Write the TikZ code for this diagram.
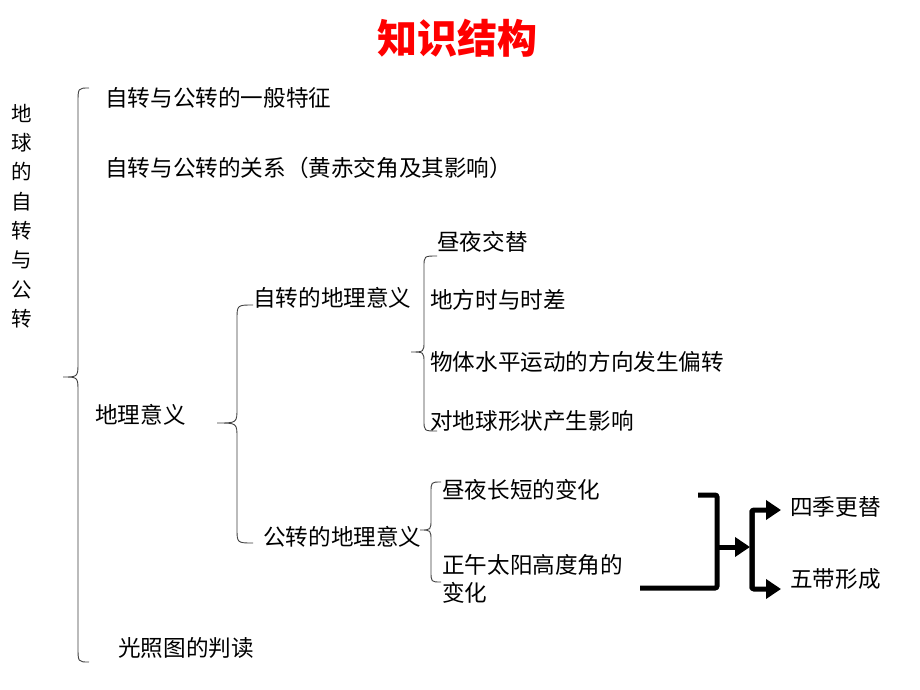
\documentclass[tikz,border=0pt]{standalone}
\usepackage{fontspec}
\newfontfamily\cjk{Noto Sans CJK SC}
\usetikzlibrary{arrows.meta}
\newcommand\mybrace[7]{% xe xv xt yt ym yb r
  \draw[bracel] (#1,#4) .. controls (#2,#4) .. (#2,#4+#7) -- (#2,#5-#7) .. controls (#2,#5) .. (#3,#5)
    .. controls (#2,#5) .. (#2,#5+#7) -- (#2,#6-#7) .. controls (#2,#6) .. (#1,#6);}
\tikzset{
  txt/.style={anchor=west, inner sep=0pt, font=\cjk\fontsize{22.6}{28}\selectfont},
  bracel/.style={draw=black!75, line width=0.9pt},
  thick arrow/.style={line width=5pt, rounded corners=2pt, -{Triangle[length=15pt,width=19pt]}},
  thick line/.style={line width=5pt, rounded corners=2pt},
}
\begin{document}
\begin{tikzpicture}[x=1pt,y=-1pt]
\useasboundingbox[fill=white] (0,0) rectangle (920,690);
\node[font=\cjk\bfseries\fontsize{40}{44}\selectfont, text=red, inner sep=0pt] (title) at (457,38) {知识结构};
\node[font=\cjk\fontsize{20.5}{29.3}\selectfont, align=center, inner sep=0pt] (root) at (22,216) {地\\球\\的\\自\\转\\与\\公\\转};
\mybrace{89}{78}{63}{88}{377}{662}{15}
\node[txt] (a1) at (105,98) {自转与公转的一般特征};
\node[txt] (a2) at (105,168) {自转与公转的关系（黄赤交角及其影响）};
\node[txt] (a3) at (95,415) {地理意义};
\node[txt] (a4) at (118,648) {光照图的判读};
\mybrace{253}{237}{217}{305}{423}{543}{15}
\node[txt] (b1) at (253,298) {自转的地理意义};
\node[txt] (b2) at (263,537) {公转的地理意义};
\mybrace{437}{424}{411}{256}{352}{431}{11}
\node[txt] (c1) at (437,242) {昼夜交替};
\node[txt] (c2) at (430,300) {地方时与时差};
\node[txt] (c3) at (430,362) {物体水平运动的方向发生偏转};
\node[txt] (c4) at (430,421) {对地球形状产生影响};
\mybrace{441}{431}{420}{482}{530}{582}{11}
\node[txt] (d1) at (442,490) {昼夜长短的变化};
\node[txt, align=left] (d2) at (442,579) {正午太阳高度角的\\变化};
\node[txt] (e1) at (790,507) {四季更替};
\node[txt] (e2) at (790,579) {五带形成};
\coordinate (p1) at (640,588);
\coordinate (p2) at (717,588);
\coordinate (p3) at (717,495);
\coordinate (p4) at (698,495);
\coordinate (m1) at (717,547);
\coordinate (m2) at (750,547);
\coordinate (q1) at (752,510);
\coordinate (q2) at (752,589);
\coordinate (t1) at (781,510);
\coordinate (t2) at (781,589);
\draw[thick line] (p1) -- (p2) -- (p3) -- (p4);
\draw[thick arrow] (m1) -- (m2);
\draw[thick arrow] (q2) -- (q1) -- (t1);
\draw[thick arrow] (q1) -- (q2) -- (t2);
\end{tikzpicture}
\end{document}
